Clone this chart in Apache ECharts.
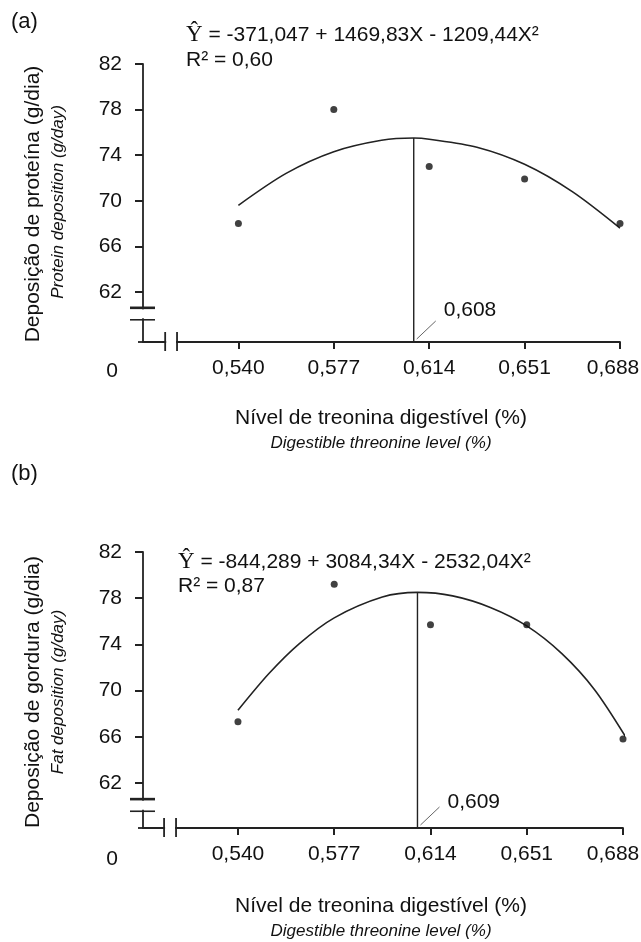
<!DOCTYPE html>
<html><head><meta charset="utf-8">
<script src="https://cdn.jsdelivr.net/npm/echarts@6/dist/echarts.min.js"></script>
<style>html,body{margin:0;padding:0;background:#fff}#c{width:641px;height:942px}</style>
</head><body><div id="c"></div>
<script>
// ---- data ----
const xTicks = [0.540, 0.577, 0.614, 0.651, 0.688];
const yTicks = [62, 66, 70, 74, 78, 82];
const levels = [0.540, 0.577, 0.614, 0.651, 0.688];
const protein = [68.0, 78.0, 73.0, 71.9, 68.0];
const proteinFitX = [0.540, 0.5585, 0.577, 0.5955, 0.608, 0.614, 0.6325, 0.651, 0.6695, 0.688];
const proteinFitY = [69.6, 72.4, 74.3, 75.3, 75.5, 75.4, 74.7, 73.2, 70.8, 67.6];
const proteinOpt = 0.608, proteinOptY = 75.5;
const fat = [67.3, 79.2, 75.7, 75.7, 65.8];
const fatFitX = [0.540, 0.552, 0.5635, 0.577, 0.5955, 0.609, 0.6225, 0.637, 0.651, 0.6645, 0.677, 0.689];
const fatFitY = [68.3, 71.5, 74.05, 76.3, 78.1, 78.5, 78.2, 77.2, 75.6, 73.2, 70.1, 66.0];
const fatOpt = 0.609, fatOptY = 78.5;
const yBreak = [60.6, 59.55];
const xBreak = [0.5116, 0.5162];

const FONT = '"Liberation Sans", Arial, sans-serif';
const SERIF = '"Liberation Serif", "Times New Roman", serif';
const fmt = v => v.toFixed(3).replace('.', ',');

const panels = [
  {top: 64, height: 278, right: 21, ymin: 57.6, xmin: 0.503, xmax: 0.688, lastPad: 14,
   pts: protein, fx: proteinFitX, fy: proteinFitY, opt: proteinOpt, optY: proteinOptY,
   eq: ' = -371,047 + 1469,83X - 1209,44X²', r2: 'R² = 0,60', eqX: 186, eqY: 35, rY: 60,
   tag: '(a)', tagY: 22, optDy: -32,
   yt1: 'Deposição de proteína (g/dia)', yt2: 'Protein deposition (g/day)', ytY: 204, yt2Y: 202,
   labY: 371, xtY: 418, xt2Y: 443},
  {top: 552, height: 276, right: 18, ymin: 58.1, xmin: 0.5035, xmax: 0.688, lastPad: 20,
   pts: fat, fx: fatFitX, fy: fatFitY, opt: fatOpt, optY: fatOptY,
   eq: ' = -844,289 + 3084,34X - 2532,04X²', r2: 'R² = 0,87', eqX: 178, eqY: 562, rY: 586,
   tag: '(b)', tagY: 474, optDy: -26,
   yt1: 'Deposição de gordura (g/dia)', yt2: 'Fat deposition (g/day)', ytY: 692, yt2Y: 692,
   labY: 859, xtY: 906, xt2Y: 931}
];

const chart = echarts.init(document.getElementById('c'), null, {renderer: 'canvas'});
const axisCol = '#222';
const option = {
  animation: false,
  backgroundColor: '#fff',
  grid: panels.map(p => ({left: 143, right: p.right, top: p.top, height: p.height, outerBoundsMode: 'none', containLabel: false})),
  xAxis: panels.map((p, i) => ({
    type: 'value', gridIndex: i, min: p.xmin, max: p.xmax,
    axisLine: {show: true, onZero: false, lineStyle: {color: axisCol, width: 1.8}},
    axisTick: {show: true, inside: false, length: 7, customValues: xTicks, lineStyle: {color: axisCol, width: 2}},
    axisLabel: {show: true, customValues: xTicks, margin: 16,
      formatter: v => Math.abs(v - p.xmax) < 1e-9 ? '{e|' + fmt(v) + '}' : fmt(v),
      rich: {e: {fontFamily: FONT, fontSize: 21, color: '#111', padding: [0, p.lastPad, 0, 0]}},
      fontFamily: FONT, fontSize: 21, color: '#111'},
    splitLine: {show: false}
  })),
  yAxis: panels.map((p, i) => ({
    type: 'value', gridIndex: i, min: p.ymin, max: 82,
    axisLine: {show: true, onZero: false, lineStyle: {color: axisCol, width: 1.8}},
    axisTick: {show: true, inside: false, length: 8, customValues: yTicks, lineStyle: {color: axisCol, width: 2}},
    axisLabel: {show: true, customValues: yTicks, margin: 21, fontFamily: FONT, fontSize: 21, color: '#111'},
    splitLine: {show: false}
  })),
  series: []
};
panels.forEach((p, i) => {
  option.series.push({
    type: 'line', xAxisIndex: i, yAxisIndex: i, data: p.fx.map((x, k) => [x, p.fy[k]]),
    smooth: 0.3, showSymbol: false, lineStyle: {color: '#222', width: 1.6}, z: 3
  });
  option.series.push({
    type: 'line', xAxisIndex: i, yAxisIndex: i, data: [[p.opt, p.ymin], [p.opt, p.optY]],
    showSymbol: false, lineStyle: {color: '#222', width: 1.4}, z: 3
  });
  option.series.push({
    type: 'scatter', xAxisIndex: i, yAxisIndex: i, data: levels.map((x, k) => [x, p.pts[k]]),
    symbol: 'circle', symbolSize: 7, itemStyle: {color: '#111'}, z: 4
  });
});
chart.setOption(option);

const g = [];
const txt = (x, y, text, o) => g.push(Object.assign({type: 'text', x, y, z: 100,
  style: Object.assign({text, fontFamily: FONT, fontSize: 21, fill: '#111', align: 'left', verticalAlign: 'middle'}, o || {})}));
const ln = (x1, y1, x2, y2, w, col) => g.push({type: 'line', z: 100,
  shape: {x1, y1, x2, y2}, style: {stroke: col || axisCol, lineWidth: w}});
const rect = (x, y, w, h) => g.push({type: 'rect', z: 99, shape: {x, y, width: w, height: h}, style: {fill: '#fff'}});

panels.forEach((p, i) => {
  const [ax, ay] = chart.convertToPixel({gridIndex: i}, [p.xmin, p.ymin]);
  const yb1 = chart.convertToPixel({gridIndex: i}, [p.xmin, yBreak[0]])[1];
  const yb2 = chart.convertToPixel({gridIndex: i}, [p.xmin, yBreak[1]])[1];
  const xb1 = chart.convertToPixel({gridIndex: i}, [xBreak[0], p.ymin])[0];
  const xb2 = chart.convertToPixel({gridIndex: i}, [xBreak[1], p.ymin])[0];
  const vx = chart.convertToPixel({gridIndex: i}, [p.opt, p.ymin])[0];
  // y-axis break
  rect(ax - 4, yb1 + 1.5, 8, yb2 - yb1 - 3);
  ln(ax - 13, yb1, ax + 12, yb1, 2.6);
  ln(ax - 13, yb2, ax + 12, yb2, 1.6);
  // x-axis break
  rect(xb1 + 1, ay - 4, xb2 - xb1 - 2, 8);
  ln(xb1, ay - 10, xb1, ay + 9, 1.8);
  ln(xb2, ay - 10, xb2, ay + 9, 1.8);
  ln(ax - 5, ay, ax, ay, 1.8);
  // origin label
  txt(112, p.labY, '0', {align: 'center'});
  // optimum leader and label
  ln(vx + 3, ay - 3, vx + 22, ay - 21, 1, '#666');
  txt(vx + 30, ay + p.optDy, fmt(p.opt));
  // equation
  g.push({type: 'text', x: p.eqX, y: p.eqY, z: 100, style: {
    text: '{h|Ŷ}{t|' + p.eq + '}', verticalAlign: 'middle', align: 'left',
    rich: {h: {fontFamily: SERIF, fontSize: 23, fill: '#111'}, t: {fontFamily: FONT, fontSize: 21, fill: '#111'}}}});
  txt(p.eqX, p.rY, p.r2);
  // panel tag
  txt(11, p.tagY, p.tag, {fontSize: 22});
  // y titles
  g.push({type: 'text', x: 33, y: p.ytY, rotation: Math.PI / 2, z: 100,
    style: {text: p.yt1, fontFamily: FONT, fontSize: 21, fill: '#111', align: 'center', verticalAlign: 'middle'}});
  g.push({type: 'text', x: 58, y: p.yt2Y, rotation: Math.PI / 2, z: 100,
    style: {text: p.yt2, fontFamily: FONT, fontStyle: 'italic', fontSize: 17, fill: '#111', align: 'center', verticalAlign: 'middle'}});
  // x titles
  txt(381, p.xtY, 'Nível de treonina digestível (%)', {align: 'center'});
  txt(381, p.xt2Y, 'Digestible threonine level (%)', {align: 'center', fontStyle: 'italic', fontSize: 17});
});
chart.setOption({graphic: {elements: g}});
</script></body></html>
